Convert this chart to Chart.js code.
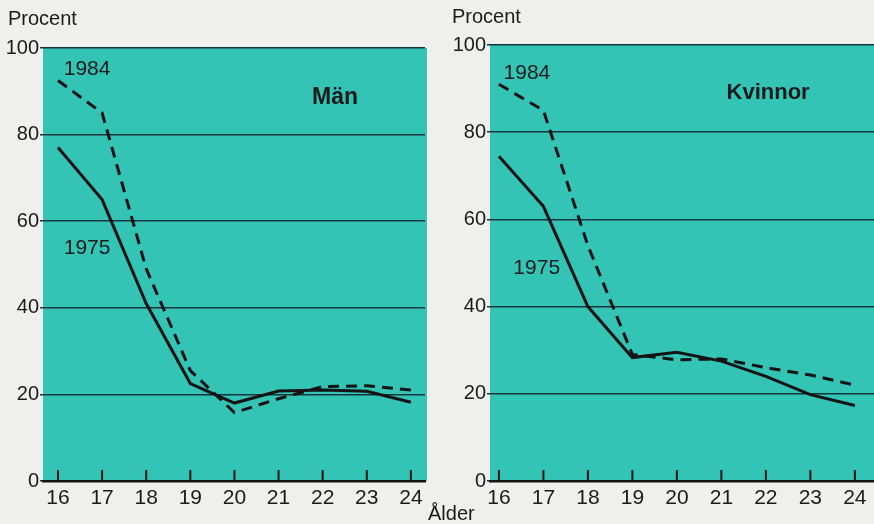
<!DOCTYPE html>
<html>
<head>
<meta charset="utf-8">
<script src="https://cdn.jsdelivr.net/npm/chart.js@4"></script>
<style>
  body { margin: 0; background: #efefeb; width: 874px; height: 524px; overflow: hidden;
         font-family: "Liberation Sans", Arial, sans-serif; color: #1a1a1a; }
  .box { position: absolute; top: 0; height: 524px; }
  .lbl { position: absolute; font-size: 20px; }
</style>
</head>
<body>
<div class="box" style="left:0;width:440px"><canvas id="manChart"></canvas></div>
<div class="box" style="left:440px;width:434px"><canvas id="kvinnorChart"></canvas></div>
<div class="lbl" style="left:8px;top:7px">Procent</div>
<div class="lbl" style="left:452px;top:5px">Procent</div>
<div class="lbl" style="left:428px;top:502px">Ålder</div>
<script>
  // ages on the x axis
  const ages = [16, 17, 18, 19, 20, 21, 22, 23, 24];
  const yTicks = [0, 20, 40, 60, 80, 100];

  // Män
  const man1975 = [77, 65, 41, 22.5, 18, 20.8, 21, 20.7, 18.2];
  const man1984 = [92.5, 85, 49, 25.5, 15.8, 19, 21.8, 22, 21];

  // Kvinnor
  const kvinnor1975 = [74.5, 63, 40, 28.3, 29.5, 27.5, 24, 19.8, 17.3];
  const kvinnor1984 = [91, 85, 54, 29, 27.8, 28, 26, 24.3, 22];

  const teal = "#34c4b6";
  const ink = "#141414";

  // fill the plot area with teal and draw the short upward ticks on the age axis
  const panelPlugin = {
    id: "panel",
    beforeDraw(chart) {
      const a = chart.chartArea;
      const c = chart.ctx;
      c.save();
      c.fillStyle = teal;
      c.fillRect(a.left, a.top, a.right - a.left + 2, a.bottom - a.top);
      c.restore();
    },
    afterDraw(chart, args, opts) {
      const c = chart.ctx;
      const x = chart.scales.x;
      const y = chart.scales.y;
      c.save();
      c.strokeStyle = ink;
      c.lineWidth = 2;
      x.ticks.forEach(t => {
        const px = x.getPixelForValue(t.value);
        c.beginPath();
        c.moveTo(px, y.bottom);
        c.lineTo(px, y.bottom - 11);
        c.stroke();
      });
      c.fillStyle = "#1a1a1a";
      c.textAlign = "center";
      c.textBaseline = "middle";
      (opts.notes || []).forEach(n => {
        c.font = n.font;
        c.fillText(n.text, x.getPixelForValue(n.x), y.getPixelForValue(n.y));
      });
      c.restore();
    }
  };

  function makeChart(id, v1975, v1984, xMin, xMax, pad, yWidth, notes) {
    return new Chart(document.getElementById(id), {
      type: "line",
      data: {
        datasets: [
          {
            label: "1975",
            data: ages.map((a, i) => ({ x: a, y: v1975[i] })),
            borderColor: ink,
            borderWidth: 3,
            pointRadius: 0,
            tension: 0
          },
          {
            label: "1984",
            data: ages.map((a, i) => ({ x: a, y: v1984[i] })),
            borderColor: ink,
            borderWidth: 3,
            borderDash: [11, 7],
            pointRadius: 0,
            tension: 0
          }
        ]
      },
      options: {
        responsive: true,
        maintainAspectRatio: false,
        animation: false,
        layout: { padding: pad },
        plugins: {
          legend: { display: false },
          tooltip: { enabled: false },
          panel: { notes: notes }
        },
        scales: {
          x: {
            type: "linear",
            min: xMin,
            max: xMax,
            afterBuildTicks: axis => { axis.ticks = ages.map(v => ({ value: v })); },
            afterFit: axis => { axis.height = 43; },
            grid: { display: false, drawTicks: false },
            border: { display: true, color: ink, width: 2.5 },
            ticks: { color: "#1a1a1a", padding: 5, font: { family: "Liberation Sans", size: 21 } }
          },
          y: {
            min: 0,
            max: 100,
            afterBuildTicks: axis => { axis.ticks = yTicks.map(v => ({ value: v })); },
            afterFit: axis => { axis.width = yWidth; },
            grid: { color: "#12343a", lineWidth: 1.5, tickLength: 3 },
            border: { display: false },
            ticks: { color: "#1a1a1a", padding: 1, font: { family: "Liberation Sans", size: 20 } }
          }
        }
      },
      plugins: [panelPlugin]
    });
  }

  makeChart("manChart", man1975, man1984, 15.66, 24.32,
    { top: 48, right: 15, bottom: 0, left: 0 }, 43,
    [
      { text: "1984", x: 16.66, y: 95, font: "21px 'Liberation Sans'" },
      { text: "1975", x: 16.66, y: 53.8, font: "21px 'Liberation Sans'" },
      { text: "Män", x: 22.28, y: 88.6, font: "bold 23px 'Liberation Sans'" }
    ]);

  makeChart("kvinnorChart", kvinnor1975, kvinnor1984, 15.8, 24.43,
    { top: 45, right: 0, bottom: 0, left: 0 }, 50,
    [
      { text: "1984", x: 16.63, y: 93.6, font: "21px 'Liberation Sans'" },
      { text: "1975", x: 16.85, y: 48.7, font: "21px 'Liberation Sans'" },
      { text: "Kvinnor", x: 22.05, y: 89, font: "bold 22px 'Liberation Sans'" }
    ]);
</script>
</body>
</html>
